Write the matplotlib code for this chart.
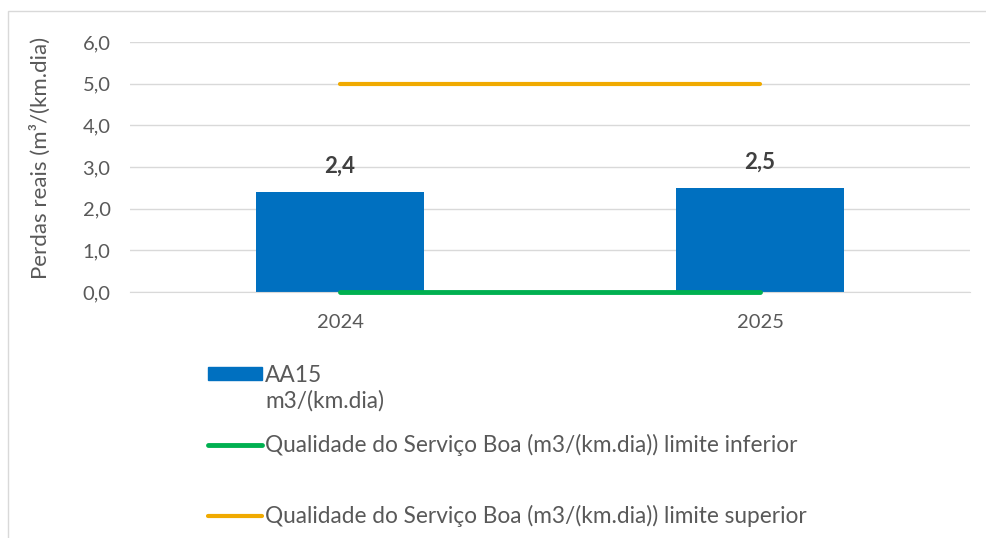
import matplotlib
import matplotlib.pyplot as plt
from matplotlib.patches import Rectangle, Patch
from matplotlib.lines import Line2D

matplotlib.rcParams['font.family'] = ['Lato', 'DejaVu Sans']

anos = ['2024', '2025']
perdas = [2.4, 2.5]
limite_inferior = [0.0, 0.0]
limite_superior = [5.0, 5.0]
yticks = [0, 1, 2, 3, 4, 5, 6]

azul = '#0070C0'
verde = '#00B050'
laranja = '#F0AA00'
cinza = '#595959'

fig = plt.figure(figsize=(9.86, 5.38), dpi=100)
ax = fig.add_axes([130 / 986, 1 - 292 / 538, 840 / 986, 250 / 538])

x = list(range(len(anos)))
bars = ax.bar(x, perdas, width=0.4, color=azul, zorder=2)
ax.plot(x, limite_inferior, color=verde, lw=3.5, solid_capstyle='round', zorder=3, clip_on=False)
ax.plot(x, limite_superior, color=laranja, lw=3, solid_capstyle='round', zorder=3)

for xi, v in zip(x, perdas):
    ax.annotate(f'{v:.1f}'.replace('.', ','), (xi, v), xytext=(0, 11), textcoords='offset points',
                ha='center', va='bottom', fontsize=16, fontweight='bold', color='#404040')

ax.set_xlim(-0.5, 1.5)
ax.set_ylim(0, 6)
ax.set_yticks(yticks)
ax.set_yticklabels([f'{t:.1f}'.replace('.', ',') for t in yticks])
ax.set_xticks(x)
ax.set_xticklabels(anos)
ax.tick_params(axis='both', length=0, labelsize=14.5, colors=cinza)
ax.tick_params(axis='y', pad=14)
ax.tick_params(axis='x', pad=16)
ax.grid(axis='y', color='#D9D9D9', lw=1, zorder=0)
ax.set_axisbelow(True)
for s in ['top', 'right', 'left']:
    ax.spines[s].set_visible(False)
ax.spines['bottom'].set_color('#D9D9D9')

ax.set_ylabel('Perdas reais (m³/(km.dia)', fontsize=16, color=cinza)
ax.yaxis.set_label_coords(-0.094, 0.535)

# moldura
fig.patches.append(Rectangle((8 / 986, -0.1), 1.1, 1 - 11 / 538 + 0.1, transform=fig.transFigure,
                             fill=False, edgecolor='#D9D9D9', lw=1))

# legenda
entradas = [
    (Patch(color=azul), 'AA15', 1 - 375 / 538),
    (Line2D([], [], color=verde, lw=3.5, solid_capstyle='round'),
     'Qualidade do Serviço Boa (m3/(km.dia)) limite inferior', 1 - 445 / 538),
    (Line2D([], [], color=laranja, lw=3, solid_capstyle='round'),
     'Qualidade do Serviço Boa (m3/(km.dia)) limite superior', 1 - 516 / 538),
]
for h, lab, yy in entradas:
    fig.legend(handles=[h], labels=[lab], loc='center left', bbox_to_anchor=(208 / 986, yy),
               frameon=False, fontsize=16.3, handlelength=2.4, handleheight=0.57,
               handletextpad=0.12, borderpad=0, borderaxespad=0, labelcolor=cinza)
fig.text(265 / 986, 1 - 401 / 538, 'm3/(km.dia)', fontsize=16.3, color=cinza, va='center', ha='left')

fig.savefig('out.png', dpi=100)
